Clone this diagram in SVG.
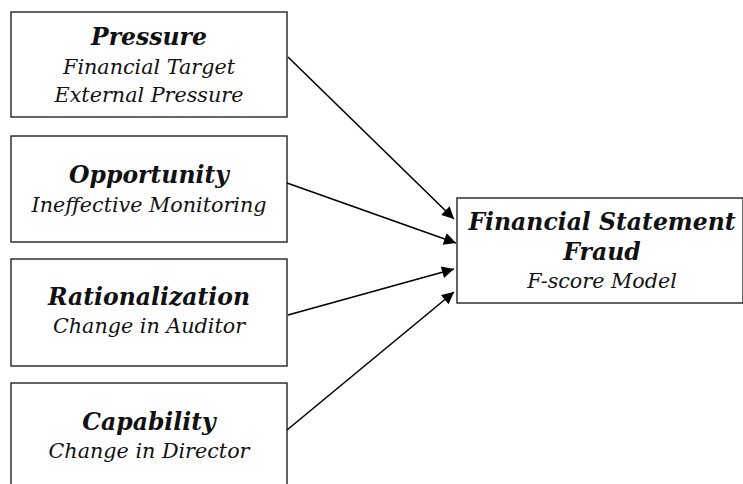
<svg xmlns="http://www.w3.org/2000/svg" width="743" height="484" viewBox="0 0 743 484">
  <style>
    .box { fill: #ffffff; stroke: #222222; stroke-width: 1.4; }
    .t { font-family: "DejaVu Serif", "Liberation Serif", serif; font-style: italic; font-size: 20.7px; fill: #111111; text-anchor: middle; }
    .h { font-weight: bold; font-size: 23.5px; }
    .link { stroke: #000000; stroke-width: 1.6; fill: none; marker-end: url(#arrow); }
  </style>
  <defs>
    <marker id="arrow" viewBox="0 0 10 10" refX="10" refY="5" markerUnits="userSpaceOnUse" markerWidth="17" markerHeight="12" orient="auto">
      <path d="M0,0 L10,5 L0,10 Z" fill="#000000"/>
    </marker>
  </defs>
  <rect width="743" height="484" fill="#ffffff"/>

  <g id="pressure">
    <rect class="box" x="11" y="12" width="276" height="105"/>
    <text class="t h" x="149" y="45">Pressure</text>
    <text class="t" x="149" y="74">Financial Target</text>
    <text class="t" x="149" y="102">External Pressure</text>
  </g>

  <g id="opportunity">
    <rect class="box" x="11" y="136" width="276" height="106"/>
    <text class="t h" x="149" y="183">Opportunity</text>
    <text class="t" x="149" y="212">Ineffective Monitoring</text>
  </g>

  <g id="rationalization">
    <rect class="box" x="11" y="259" width="276" height="107"/>
    <text class="t h" x="149" y="305">Rationalization</text>
    <text class="t" x="149" y="333">Change in Auditor</text>
  </g>

  <g id="capability">
    <rect class="box" x="11" y="383" width="276" height="110"/>
    <text class="t h" x="149" y="430">Capability</text>
    <text class="t" x="149" y="458">Change in Director</text>
  </g>

  <g id="fraud">
    <rect class="box" x="457" y="198" width="286" height="105"/>
    <text class="t h" x="602" y="230">Financial Statement</text>
    <text class="t h" x="602" y="260">Fraud</text>
    <text class="t" x="602" y="288">F-score Model</text>
  </g>

  <g id="connectors">
    <line class="link" x1="288" y1="57" x2="454" y2="219"/>
    <line class="link" x1="287" y1="183" x2="456" y2="243"/>
    <line class="link" x1="288" y1="315" x2="454" y2="269"/>
    <line class="link" x1="287" y1="430" x2="454" y2="292"/>
  </g>
</svg>
